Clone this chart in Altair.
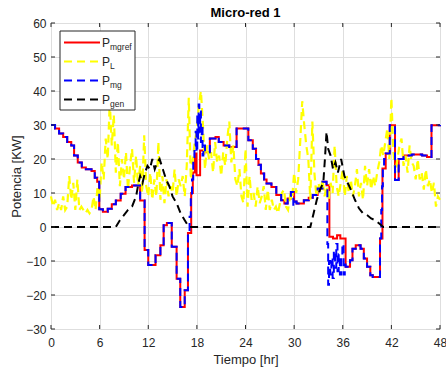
import altair as alt
import pandas as pd

# ---------------- data ----------------
ref_t = [0, 0.5, 1.0, 1.5, 2.0, 2.5, 2.85, 3.3, 3.8, 4.3, 5.0, 5.4, 5.7, 5.95, 6.4, 7.0, 7.5, 8.0, 8.6, 9.2,
         10.0, 11.0, 11.55, 12.0, 12.9, 13.5, 13.9, 14.3, 14.9, 15.5, 15.95, 16.5, 16.9, 17.3, 17.5, 17.75,
         17.95, 18.4, 19.0, 19.6, 20.3, 20.7, 21.3, 22.0, 22.9, 24.35, 24.9, 25.3, 25.6, 25.9, 26.3, 26.6,
         27.2, 27.8, 28.4, 28.8, 29.2, 29.6, 30.0, 30.3, 31.2, 31.8, 32.3, 32.9, 33.5, 34.0, 34.35, 34.8,
         35.3, 35.7, 36.35, 36.9, 37.2, 37.6, 38.2, 38.6, 39.0, 39.4, 39.7, 40.6, 40.9, 41.3, 41.8, 42.45,
         42.9, 43.5, 44.5, 45.8, 46.4, 46.95, 48]
ref_v = [30, 29, 27.5, 26.5, 25, 24, 21, 19, 17.5, 17, 16.5, 14.5, 13.3, 5.2, 4.5, 5.4, 6.7, 7.8, 9.8, 11.8,
         12.2, 7.8, -6.8, -11.2, -8.3, -5.4, 0.5, 1.2, -5.8, -15.2, -23.5, -18.6, -1.8, 10, 16, 21.6,
         15.2, 22.5, 22, 26, 26.5, 25, 24, 23.5, 29, 25.5, 23, 20, 18.3, 15.7, 14, 12.8,
         11.8, 9.4, 7.9, 6.9, 8.4, 10.3, 7.5, 6.9, 7.9, 8.6, 9.4, 11.3, 13.3, 12.3, -2.9, -3.4,
         -2.4, -3.4, -11.7, -9.8, -6.4, -5.4, -6.4, -9.3, -11.7, -14.2, -14.7, -3.4, 17.2, 21.6, 29.9, 13.8,
         20, 21, 21.3, 21, 20.6, 29.9, 30]

mg_t = [0, 0.5, 1.0, 1.5, 2.0, 2.5, 2.85, 3.3, 3.8, 4.3, 5.0, 5.4, 5.7, 5.95, 6.4, 7.0, 7.5, 8.0, 8.6, 9.2,
        10.0, 11.0, 11.55, 12.0, 12.9, 13.5, 13.9, 14.3, 14.9, 15.5, 15.95, 16.5, 16.9,
        17.1, 17.25, 17.4, 17.55, 17.7, 17.85, 17.95, 18.05, 18.15, 18.22, 18.3, 18.4, 18.5, 18.6, 18.7, 18.8,
        19.0, 19.6, 20.3, 20.7, 21.3, 22.0, 22.9, 24.35, 24.9, 25.3, 25.6, 25.9, 26.3, 26.6,
        27.2, 27.8, 28.4, 28.8, 29.2, 29.6, 29.9, 30.1, 30.3, 31.2, 31.8, 32.3, 32.9, 33.5, 34.0,
        34.1, 34.2, 34.3, 34.45, 34.6, 34.75, 34.9, 35.05, 35.2, 35.35, 35.5, 35.65, 35.8, 35.95, 36.1, 36.25,
        36.35, 36.9, 37.2, 37.6, 38.2, 38.6, 39.0, 39.4, 39.7, 40.6, 40.75, 40.85, 40.95, 41.1, 41.3, 41.8, 42.45,
        42.9, 43.5, 44.5, 45.8, 46.4, 46.95, 48]
mg_v = [30, 29, 27.5, 26.5, 25, 24, 21, 19, 17.5, 17, 16.5, 14.5, 13.3, 5.2, 4.5, 5.4, 6.7, 7.8, 9.8, 11.8,
        12.2, 7.8, -6.8, -11.2, -8.3, -5.4, 0.5, 1.2, -5.8, -15.2, -23.5, -18.6, -1.8,
        3, 9, 14, 20, 24, 28, 22, 33, 26, 36, 28, 34, 25, 30, 21, 24,
        22, 26, 26.5, 25, 24, 23.5, 29, 25.5, 23, 20, 18.3, 15.7, 14, 12.8,
        11.8, 9.4, 7.9, 6.9, 8.4, 10.3, 6.2, 7.5, 6.9, 7.9, 8.6, 9.4, 11.3, 13.3, 12.3,
        -5, -17, -10, -14, -9, -15, -7, -12, -5, -13, -8, -14, -9, -5, -14, -11,
        -11.7, -9.8, -6.4, -5.4, -6.4, -9.3, -11.7, -14.2, -14.7, -3.4, 5, 12, 17.2, 20, 21.6, 29.9, 13.8,
        20, 21, 21.3, 21, 20.6, 29.9, 30]

gen_t = [0, 8, 8.5, 9, 9.5, 10, 10.5, 10.8, 11, 11.3, 11.6, 11.9, 12.2, 12.5, 12.8, 13.1, 13.4, 13.8, 14.2,
         14.6, 15, 15.5, 16, 16.5, 17, 32, 32.4, 32.8, 33.2, 33.6, 33.8, 34.0, 34.2, 34.5, 34.8, 35.1, 35.4,
         35.8, 36.2, 36.6, 37, 37.5, 38, 38.5, 39, 39.5, 40, 40.5, 41, 48]
gen_v = [0, 0, 2, 3.5, 5, 6, 9, 13, 15, 13, 16, 18, 17, 20, 17, 19, 20, 17, 14,
         12, 9, 7, 4, 2, 0, 0, 4, 8, 11, 13, 20, 28, 23, 21, 17, 19, 16,
         20, 15, 13, 11, 8, 5.5, 4, 3.5, 2.5, 2, 1, 0, 0]

load_step = 0.25
load_v = [9, 6, 8, 5, 7, 5, 9, 5, 6, 15, 8, 13, 5, 14, 5, 6, 5, 4, 5, 4, 5, 9, 5, 12,
          8, 19, 14, 26, 20, 37, 24, 33, 16, 25, 12, 20, 14, 22, 11, 18, 23, 13, 21, 12,
          18, 10, 27, 12, 9, 16, 8, 14, 9, 25, 8, 15, 7, 14, 9, 12, 10, 17, 9, 14,
          12, 15, 9, 18, 38, 14, 20, 25, 29, 36, 40, 30, 17, 24, 20, 22, 16, 25, 19, 21,
          15, 22, 18, 26, 31, 19, 24, 14, 12, 17, 9, 7, 23, 6, 15, 8, 10, 6, 12, 7,
          9, 12, 5, 11, 5, 8, 5, 6, 4, 7, 10, 11, 6, 5, 9, 8, 16, 10, 14, 25,
          37, 30, 24, 20, 8, 31, 16, 9, 13, 10, 14, 9, 12, 8, 13, 10, 24, 12, 9, 13,
          17, 9, 15, 10, 14, 9, 12, 17, 9, 13, 8, 18, 12, 17, 11, 15, 12, 16, 19, 24,
          21, 25, 29, 20, 38, 22, 16, 20, 24, 26, 18, 21, 16, 24, 19, 18, 14, 20, 14, 16,
          11, 17, 12, 14, 10, 13, 6, 9, 8]

x_ticks = [0, 6, 12, 18, 24, 30, 36, 42, 48]
y_ticks = [-30, -20, -10, 0, 10, 20, 30, 40, 50, 60]

series_names = ["P", "P", "P", "P"]
series_subs = ["mgref", "L", "mg", "gen"]
series_colors = ["#ff0000", "#ffff00", "#0000ff", "#000000"]
chart_title = "Micro-red 1"

# ---------------- chart ----------------
FONT = "Liberation Sans"
W, H = 389, 306
TXT = "#262626"

ref_df = pd.DataFrame({"t": ref_t, "v": ref_v})
mg_df = pd.DataFrame({"t": mg_t, "v": mg_v})
gen_df = pd.DataFrame({"t": gen_t, "v": gen_v})
load_df = pd.DataFrame({"t": [i * load_step for i in range(len(load_v))], "v": load_v})
xt_df = pd.DataFrame({"t": x_ticks})
yt_df = pd.DataFrame({"v": y_ticks})
one = pd.DataFrame({"a": [0]})

xsc = alt.Scale(domain=[0, 48], nice=False, zero=False)
ysc = alt.Scale(domain=[-30, 60], nice=False, zero=False)
xax = alt.Axis(values=x_ticks, grid=True, gridColor="#dedede", tickSize=0, domain=False,
               labelPadding=8, labelFontSize=12, labelColor=TXT, labelFont=FONT, labelFlush=False,
               title="Tiempo [hr]", titleFont=FONT, titleFontSize=13, titleFontWeight="normal",
               titleColor=TXT, titlePadding=5)
yax = alt.Axis(values=y_ticks, grid=True, gridColor="#dedede", tickSize=0, domain=False,
               labelPadding=5, labelFontSize=12, labelColor=TXT, labelFont=FONT, labelFlush=False,
               title="Potencia [KW]", titleFont=FONT, titleFontSize=13, titleFontWeight="normal",
               titleColor=TXT, titlePadding=2)

X = alt.X("t:Q", scale=xsc, axis=xax)
Y = alt.Y("v:Q", scale=ysc, axis=yax)

dash = [8, 5]
red = alt.Chart(ref_df).mark_line(color="#ff0000", strokeWidth=2, interpolate="step-after").encode(x=X, y=Y)
yel = alt.Chart(load_df).mark_line(color="#ffff00", strokeWidth=2.2, strokeDash=dash).encode(x=X, y=Y)
blu = alt.Chart(mg_df).mark_line(color="#0000ff", strokeWidth=2, strokeDash=dash,
                                 interpolate="step-after").encode(x=X, y=Y)
blk = alt.Chart(gen_df).mark_line(color="#000000", strokeWidth=2, strokeDash=dash).encode(x=X, y=Y)

tk = "#262626"
tick_bot = alt.Chart(xt_df).mark_rule(color=tk, strokeWidth=1).encode(x=X, y=alt.value(H - 4), y2=alt.value(H))
tick_top = alt.Chart(xt_df).mark_rule(color=tk, strokeWidth=1).encode(x=X, y=alt.value(0), y2=alt.value(4))
tick_lft = alt.Chart(yt_df).mark_rule(color=tk, strokeWidth=1).encode(y=Y, x=alt.value(0), x2=alt.value(4))
tick_rgt = alt.Chart(yt_df).mark_rule(color=tk, strokeWidth=1).encode(y=Y, x=alt.value(W - 4), x2=alt.value(W))

title_txt = alt.Chart(one).mark_text(font=FONT, fontSize=13, fontWeight="bold", color="#000000",
                                     align="center", baseline="alphabetic").encode(
    x=alt.value(W / 2), y=alt.value(-6), text=alt.value(chart_title))

# legend
leg_layers = [
    alt.Chart(one).mark_rect(fill="white", stroke=tk, strokeWidth=1).encode(
        x=alt.value(9), x2=alt.value(84), y=alt.value(8), y2=alt.value(87))
]
row_y = [19.5, 38.5, 57.5, 76.5]
for i, (nm, sb, col) in enumerate(zip(series_names, series_subs, series_colors)):
    ry = row_y[i]
    kw = {} if i == 0 else {"strokeDash": dash}
    leg_layers.append(alt.Chart(one).mark_rule(color=col, strokeWidth=2, **kw).encode(
        x=alt.value(13), x2=alt.value(49), y=alt.value(ry)))
    leg_layers.append(alt.Chart(one).mark_text(font=FONT, fontSize=12, color=TXT, align="left",
                                               baseline="alphabetic").encode(
        x=alt.value(51), y=alt.value(ry + 4.5), text=alt.value(nm)))
    leg_layers.append(alt.Chart(one).mark_text(font=FONT, fontSize=8.5, color=TXT, align="left",
                                               baseline="alphabetic").encode(
        x=alt.value(59), y=alt.value(ry + 7), text=alt.value(sb)))

chart = alt.layer(red, yel, blu, blk, tick_bot, tick_top, tick_lft, tick_rgt, title_txt,
                  *leg_layers).properties(
    width=W, height=H,
    autosize=alt.AutoSizeParams(type="none"),
    padding={"left": 51, "top": 23, "right": 6, "bottom": 42},
).configure_view(stroke=tk, strokeWidth=1).configure(background="white")

chart.save("out.html", embed_options={"renderer": "svg", "actions": False})
